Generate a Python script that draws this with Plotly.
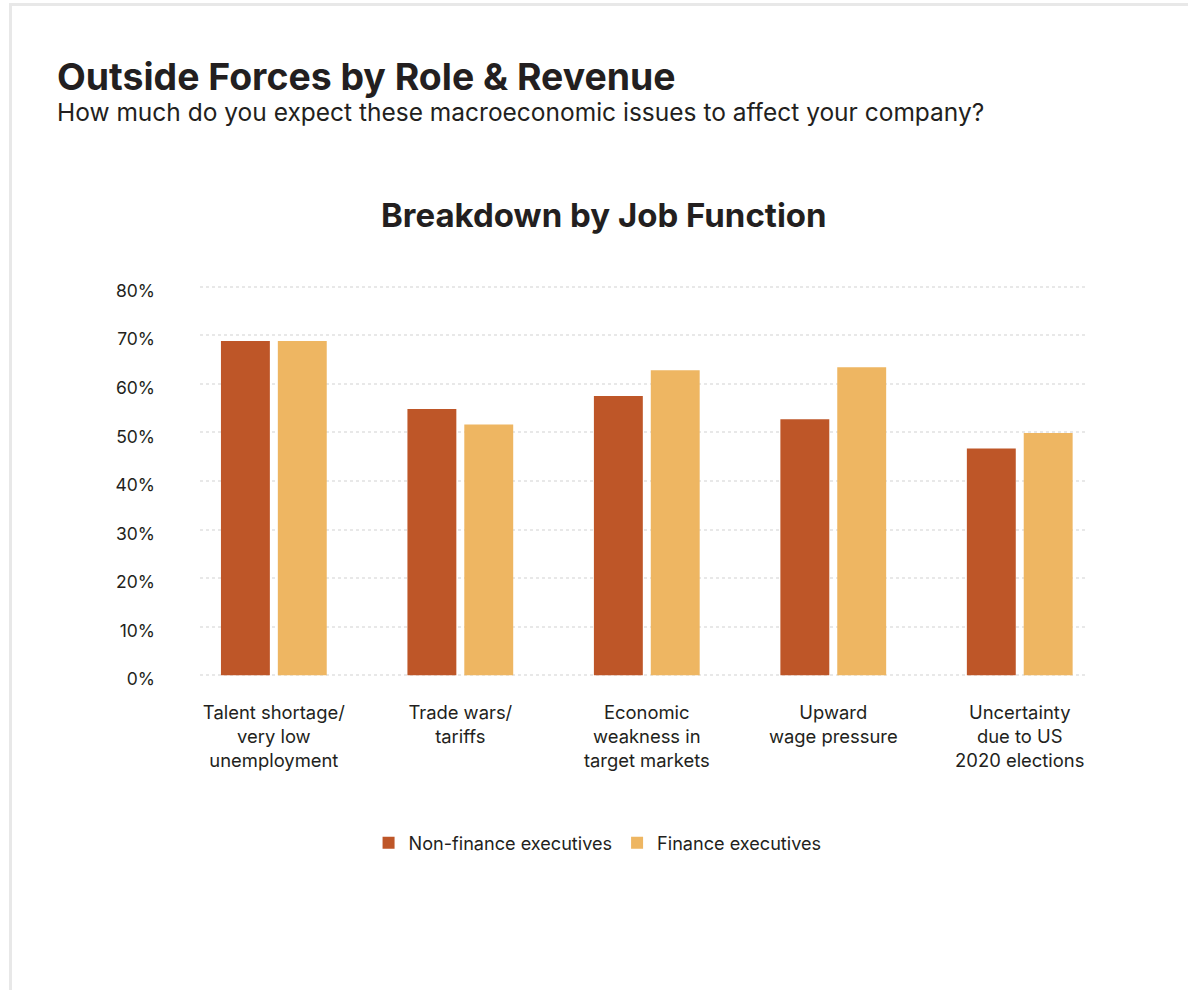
import plotly.graph_objects as go

# Survey results: share of executives expecting each issue to affect their company
categories = [
    "Talent shortage/<br>very low<br>unemployment",
    "Trade wars/<br>tariffs",
    "Economic<br>weakness in<br>target markets",
    "Upward<br>wage pressure",
    "Uncertainty<br>due to US<br>2020 elections",
]
non_finance = [68.8, 54.8, 57.5, 52.7, 46.7]
finance = [68.8, 51.6, 62.8, 63.4, 49.9]
y_ticks = [0, 10, 20, 30, 40, 50, 60, 70, 80]
y_tick_labels = [f"{v}%" for v in y_ticks]

W, H = 1188, 990
FONT = "Inter"
TEXT = "#231f20"
C_NON = "#be5628"
C_FIN = "#eeb662"

# plot-area placement in pixels
px_left, px_right = 200, 1088
px_zero = 675.3
px_per_unit = 4.858
y_min, y_max = -0.3, 82
px_bottom = px_zero - y_min * px_per_unit
px_top = px_zero - y_max * px_per_unit

fig = go.Figure()
fig.add_trace(go.Bar(
    x=list(range(len(categories))), y=non_finance, name="Non-finance executives",
    marker=dict(color=C_NON, line=dict(width=0)),
))
fig.add_trace(go.Bar(
    x=list(range(len(categories))), y=finance, name="Finance executives",
    marker=dict(color=C_FIN, line=dict(width=0)),
))

fig.update_layout(
    width=W, height=H,
    margin=dict(l=0, r=0, t=0, b=0, autoexpand=False),
    paper_bgcolor="white", plot_bgcolor="white",
    font=dict(family=FONT, color=TEXT, size=17),
    barmode="group", bargap=0.39, bargroupgap=0.14,
    showlegend=True,
    legend=dict(
        orientation="h", x=0.503, xanchor="center", y=1 - 843 / H, yanchor="middle",
        font=dict(size=18.1, color=TEXT, family=FONT), itemwidth=30,
        traceorder="normal", bgcolor="rgba(0,0,0,0)",
    ),
    xaxis=dict(
        domain=[px_left / W, px_right / W],
        range=[-0.396, 4.366],
        tickmode="array", tickvals=list(range(len(categories))), ticktext=categories,
        showgrid=False, zeroline=False, showline=False, ticks="", automargin=False,
        tickfont=dict(size=18.4, color=TEXT, family=FONT),
        ticklabelstandoff=23,
    ),
    yaxis=dict(
        domain=[1 - px_bottom / H, 1 - px_top / H],
        range=[y_min, y_max],
        tickmode="array", tickvals=y_ticks, ticktext=y_tick_labels,
        showgrid=True, gridcolor="#e8e8e8", griddash="dot", gridwidth=1.5,
        zeroline=False, showline=False, ticks="", automargin=False,
        tickfont=dict(size=17.5, color=TEXT, family=FONT),
        ticklabelstandoff=44, ticklabelshift=4,
    ),
    shapes=[
        # light frame along the top and left edges of the card
        dict(type="rect", xref="paper", yref="paper", x0=9 / W, x1=1, y0=1 - 6 / H, y1=1 - 3 / H,
             fillcolor="#e8e8e8", line=dict(width=0), layer="below"),
        dict(type="rect", xref="paper", yref="paper", x0=9 / W, x1=12 / W, y0=0, y1=1 - 3 / H,
             fillcolor="#e8e8e8", line=dict(width=0), layer="below"),
    ],
    annotations=[
        dict(text="<b>Outside Forces by Role & Revenue</b>", xref="paper", yref="paper",
             x=55 / W, y=1 - 76 / H, xanchor="left", yanchor="middle", showarrow=False,
             font=dict(size=37.4, color=TEXT, family=FONT)),
        dict(text="How much do you expect these macroeconomic issues to affect your company?",
             xref="paper", yref="paper", x=55 / W, y=1 - 112 / H, xanchor="left", yanchor="middle",
             showarrow=False, font=dict(size=24.5, color=TEXT, family=FONT)),
        dict(text="<b>Breakdown by Job Function</b>", xref="paper", yref="paper",
             x=603.5 / W, y=1 - 215 / H, xanchor="center", yanchor="middle", showarrow=False,
             font=dict(size=33, color=TEXT, family=FONT)),
    ],
)

fig.write_html("out.html")
